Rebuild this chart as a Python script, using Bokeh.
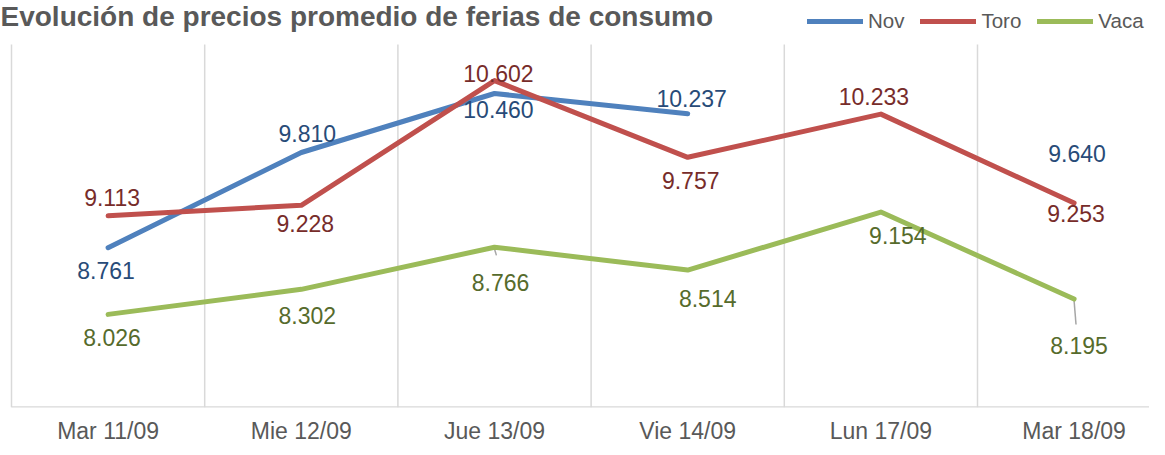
import math
from bokeh.plotting import figure
from bokeh.models import (Range1d, FixedTicker, ColumnDataSource, LabelSet, Label,
                          Legend, LegendItem)
from bokeh.core.properties import value
from bokeh.embed import file_html
from bokeh.resources import INLINE

# ---- data ----
categories = ["Mar 11/09", "Mie 12/09", "Jue 13/09", "Vie 14/09", "Lun 17/09", "Mar 18/09"]
nov = [8.761, 9.810, 10.460, 10.237, float("nan"), 9.640]
toro = [9.113, 9.228, 10.602, 9.757, 10.233, 9.253]
vaca = [8.026, 8.302, 8.766, 8.514, 9.154, 8.195]
title_text = "Evolución de precios promedio de ferias de consumo"

# ---- styling (label offsets in px, dx right / dy up) ----
nov_off = [(-2, -23), (6, 19), (4, -16), (4, 15), (0, 0), (3, 14)]
toro_off = [(4, 18), (4, -18), (4, 7), (3, -23), (-7, 18), (2, -10)]
vaca_off = [(4, -23), (6, -26), (6, -35), (20, -28), (17, -23), (5, -46)]
vaca_leader = [0, 0, 0.09, 0, 0, 0.28]

FONT = "Liberation Sans"
GRAY = "#595959"
GRID = "#D9D9D9"
FW, FH = 1149, 407            # frame (whole canvas width, down to the axis)
PLOT_LEFT, PLOT_TOP = 11, 44  # where the plot area starts inside the frame
CAT_W = 193.2                 # px per category
Y0, Y1 = 7, 11
PX_PER_UNIT = (FH - PLOT_TOP) / (Y1 - Y0)

xs = [i + 0.5 for i in range(len(categories))]

p = figure(frame_width=FW, frame_height=FH, output_backend="svg", toolbar_location=None,
           x_range=Range1d(-PLOT_LEFT / CAT_W, (FW - PLOT_LEFT) / CAT_W),
           y_range=Range1d(Y0, Y1 + PLOT_TOP / PX_PER_UNIT),
           min_border_left=0, min_border_right=0, min_border_top=0, min_border_bottom=10)
p.outline_line_color = None
p.background_fill_color = "white"
p.border_fill_color = "white"
p.yaxis.visible = False
p.grid.visible = False

# category separators (vertical gridlines limited to the plot area) and base line
gx = list(range(len(categories) + 1))
p.segment(x0=gx, y0=[Y0] * len(gx), x1=gx, y1=[Y1] * len(gx), line_color=GRID, line_width=1.5)
p.segment(x0=[0], y0=[Y0], x1=[len(categories)], y1=[Y0], line_color=GRID, line_width=2.5)

ax = p.xaxis[0]
ax.ticker = FixedTicker(ticks=xs)
ax.major_label_overrides = {x: c for x, c in zip(xs, categories)}
ax.major_label_text_font = FONT
ax.major_label_text_font_size = "23px"
ax.major_label_text_color = GRAY
ax.major_label_standoff = 4
ax.axis_line_color = None
ax.major_tick_line_color = None
ax.minor_tick_line_color = None

series = [
    ("Nov", nov, "#4F81BD", "#284B78", nov_off),
    ("Toro", toro, "#C0504D", "#772C2A", toro_off),
    ("Vaca", vaca, "#9BBB59", "#566B2C", vaca_off),
]

# leader lines for Vaca labels placed far from their points
lx = [x for x, l in zip(xs, vaca_leader) if l > 0]
ly0 = [v - 0.02 for v, l in zip(vaca, vaca_leader) if l > 0]
ly1 = [v - l for v, l in zip(vaca, vaca_leader) if l > 0]
p.segment(x0=lx, y0=ly0, x1=[x + 0.01 for x in lx], y1=ly1, line_color="#A6A6A6", line_width=1.5)

items = []
for name, vals, col, lcol, offs in series:
    r = p.line(xs, vals, line_color=col, line_width=5, line_cap="round", line_join="round")
    items.append(LegendItem(label=name, renderers=[r]))
    keep = [i for i, v in enumerate(vals) if not math.isnan(v)]
    src = ColumnDataSource(dict(
        x=[xs[i] for i in keep],
        y=[vals[i] for i in keep],
        t=[f"{vals[i]:.3f}" for i in keep],
        dx=[offs[i][0] for i in keep],
        dy=[offs[i][1] for i in keep],
    ))
    p.add_layout(LabelSet(x="x", y="y", text="t", source=src, x_offset="dx", y_offset="dy",
                          text_align="center", text_baseline="middle",
                          text_font=value(FONT), text_font_size="23px", text_color=lcol))

legend = Legend(items=items, orientation="horizontal", location=(807, FH - 33),
                glyph_width=56, glyph_height=20, label_standoff=5, spacing=16,
                padding=0, margin=0, border_line_alpha=0, background_fill_alpha=0,
                label_text_font=FONT, label_text_font_size="20.5px", label_text_color=GRAY)
p.add_layout(legend, "center")

p.add_layout(Label(x=0, y=FH, x_units="screen", y_units="screen", text=title_text,
                   text_font=FONT, text_font_size="28px", text_font_style="bold",
                   text_color=GRAY, text_baseline="top", text_align="left"))

open("out.html", "w").write(file_html(p, INLINE))
